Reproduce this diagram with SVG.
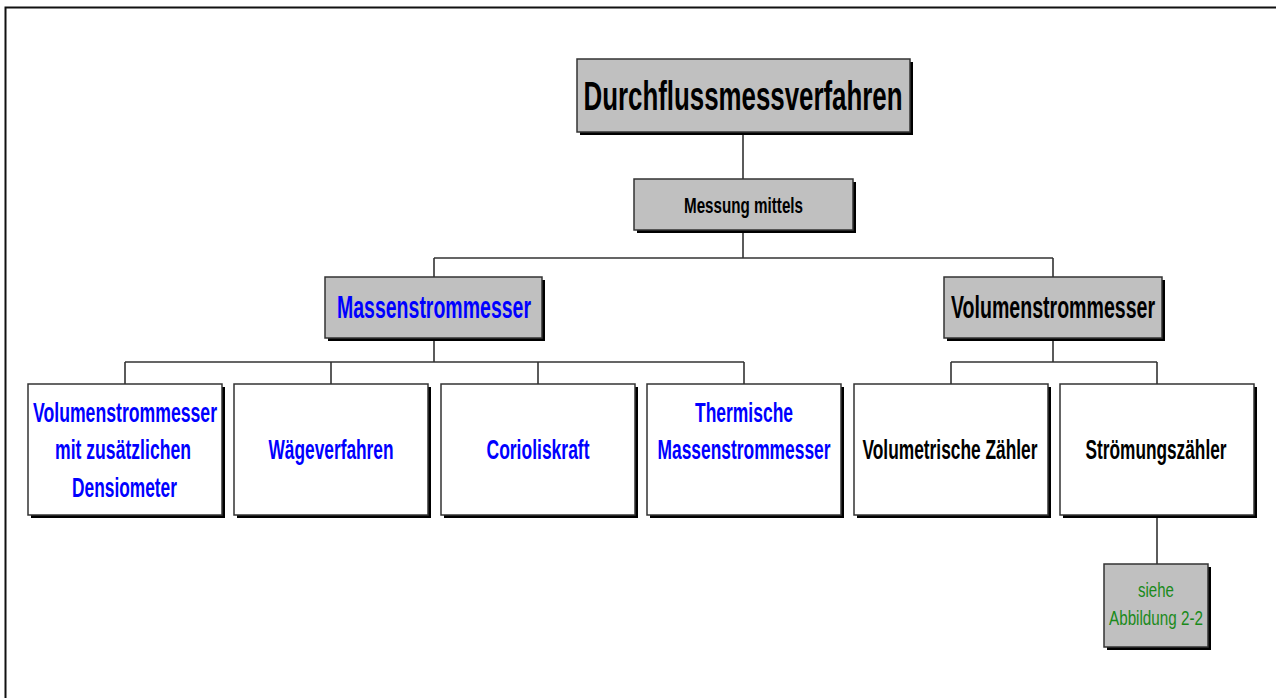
<svg xmlns="http://www.w3.org/2000/svg" width="1276" height="698" viewBox="0 0 1276 698">
  <style>
    .frame { fill: none; stroke: #111; stroke-width: 2; }
    .wire { fill: none; stroke: #333; stroke-width: 1.6; }
    .shadow { fill: #000; }
    .box { stroke: #333; stroke-width: 1.5; }
    .grey { fill: #c0c0c0; }
    .white { fill: #fff; }
    text { font-family: "Liberation Sans Narrow", "Liberation Sans", Arial, sans-serif; text-anchor: middle; }
    .b { font-weight: bold; }
    .blk { fill: #000; }
    .blue { fill: #0000ff; }
    .green { fill: #1a8a1a; }
  </style>

  <rect class="frame" x="5.5" y="7.5" width="1290" height="710"/>

  <g id="connectors">
    <path class="wire" d="M743,132 V179 M743,230 V258 M434,258 H1053 M434,258 V277 M1053,258 V277"/>
    <path class="wire" d="M434,338 V362 M125,362 H744 M125,362 V384 M331,362 V384 M538,362 V384 M744,362 V384"/>
    <path class="wire" d="M1053,338 V362 M951,362 H1157 M951,362 V384 M1157,362 V384"/>
    <path class="wire" d="M1157,515 V564"/>
  </g>

  <!-- labels are set in a narrow bold face, stretched vertically -->
  <g id="root">
    <rect class="shadow" x="580" y="62" width="333" height="73"/>
    <rect class="box grey" x="577" y="59" width="333" height="73"/>
    <text class="b blk" transform="translate(743,110) scale(1,1.3)" font-size="31" textLength="319" lengthAdjust="spacingAndGlyphs">Durchflussmessverfahren</text>
  </g>

  <g id="messung">
    <rect class="shadow" x="637" y="182" width="219" height="51"/>
    <rect class="box grey" x="634" y="179" width="219" height="51"/>
    <text class="b blk" transform="translate(743.5,213) scale(1,1.3)" font-size="17" textLength="119" lengthAdjust="spacingAndGlyphs">Messung mittels</text>
  </g>

  <g id="massenstrom">
    <rect class="shadow" x="328" y="280" width="217" height="61"/>
    <rect class="box grey" x="325" y="277" width="217" height="61"/>
    <text class="b blue" transform="translate(434,318) scale(1,1.3)" font-size="24" textLength="194" lengthAdjust="spacingAndGlyphs">Massenstrommesser</text>
  </g>

  <g id="volumenstrom">
    <rect class="shadow" x="947" y="280" width="218" height="61"/>
    <rect class="box grey" x="944" y="277" width="218" height="61"/>
    <text class="b blk" transform="translate(1053,318) scale(1,1.3)" font-size="24" textLength="204" lengthAdjust="spacingAndGlyphs">Volumenstrommesser</text>
  </g>

  <g id="densiometer">
    <rect class="shadow" x="31" y="387" width="194" height="131"/>
    <rect class="box white" x="28" y="384" width="194" height="131"/>
    <text class="b blue" transform="translate(125,422) scale(1,1.3)" font-size="21.5" textLength="184" lengthAdjust="spacingAndGlyphs">Volumenstrommesser</text>
    <text class="b blue" transform="translate(123,459) scale(1,1.3)" font-size="21.5" textLength="136" lengthAdjust="spacingAndGlyphs">mit zusätzlichen</text>
    <text class="b blue" transform="translate(124.5,497) scale(1,1.3)" font-size="21.5" textLength="105" lengthAdjust="spacingAndGlyphs">Densiometer</text>
  </g>

  <g id="waegeverfahren">
    <rect class="shadow" x="237" y="387" width="194" height="131"/>
    <rect class="box white" x="234" y="384" width="194" height="131"/>
    <text class="b blue" transform="translate(331,459) scale(1,1.3)" font-size="21.5" textLength="125" lengthAdjust="spacingAndGlyphs">Wägeverfahren</text>
  </g>

  <g id="coriolis">
    <rect class="shadow" x="444" y="387" width="194" height="131"/>
    <rect class="box white" x="441" y="384" width="194" height="131"/>
    <text class="b blue" transform="translate(538,459) scale(1,1.3)" font-size="21.5" textLength="103" lengthAdjust="spacingAndGlyphs">Corioliskraft</text>
  </g>

  <g id="thermisch">
    <rect class="shadow" x="650" y="387" width="194" height="131"/>
    <rect class="box white" x="647" y="384" width="194" height="131"/>
    <text class="b blue" transform="translate(744,422) scale(1,1.3)" font-size="21.5" textLength="98" lengthAdjust="spacingAndGlyphs">Thermische</text>
    <text class="b blue" transform="translate(744,459) scale(1,1.3)" font-size="21.5" textLength="173" lengthAdjust="spacingAndGlyphs">Massenstrommesser</text>
  </g>

  <g id="volumetrisch">
    <rect class="shadow" x="857" y="387" width="194" height="131"/>
    <rect class="box white" x="854" y="384" width="194" height="131"/>
    <text class="b blk" transform="translate(950,459) scale(1,1.3)" font-size="21" textLength="175" lengthAdjust="spacingAndGlyphs">Volumetrische Zähler</text>
  </g>

  <g id="stroemung">
    <rect class="shadow" x="1063" y="387" width="194" height="131"/>
    <rect class="box white" x="1060" y="384" width="194" height="131"/>
    <text class="b blk" transform="translate(1156,459) scale(1,1.3)" font-size="21" textLength="141" lengthAdjust="spacingAndGlyphs">Strömungszähler</text>
  </g>

  <g id="siehe">
    <rect class="shadow" x="1107" y="567" width="104" height="83"/>
    <rect class="box grey" x="1104" y="564" width="104" height="83"/>
    <text class="green" transform="translate(1156,597) scale(1,1.3)" font-size="16" textLength="36" lengthAdjust="spacingAndGlyphs">siehe</text>
    <text class="green" transform="translate(1156,625) scale(1,1.3)" font-size="16" textLength="94" lengthAdjust="spacingAndGlyphs">Abbildung 2-2</text>
  </g>
</svg>
